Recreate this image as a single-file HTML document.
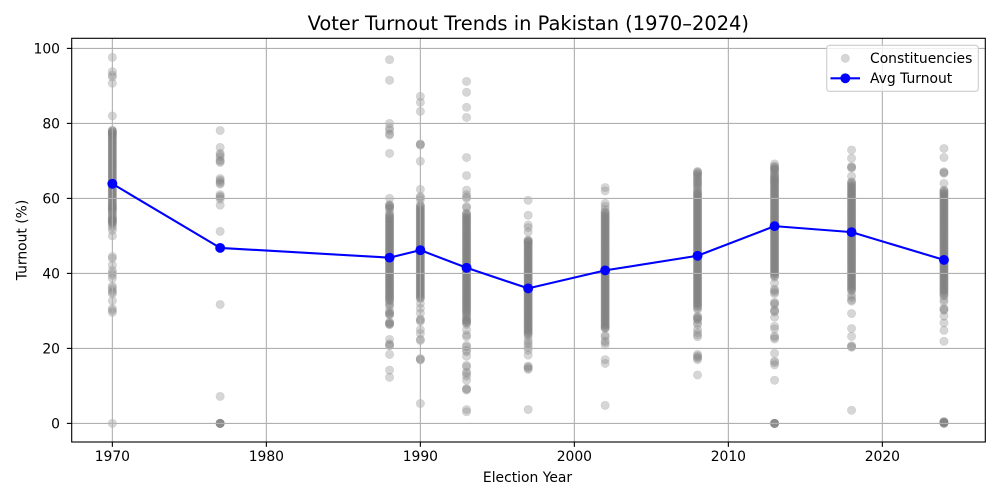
<!DOCTYPE html>
<html>
<head>
<meta charset="utf-8">
<title>Voter Turnout Trends in Pakistan</title>
<style>
html,body{margin:0;padding:0;background:#fff;}
svg{display:block;}
text{font-family:"DejaVu Sans","Liberation Sans",sans-serif;fill:#000;}
</style>
</head>
<body>
<svg id="chart" width="1000" height="500" viewBox="0 0 1000 500" xmlns="http://www.w3.org/2000/svg">
<rect x="0" y="0" width="1000" height="500" fill="#fff"/>
<text x="528.3" y="30" font-size="19.44" text-anchor="middle">Voter Turnout Trends in Pakistan (1970–2024)</text>
<text x="527.5" y="482" font-size="13.89" text-anchor="middle">Election Year</text>
<text x="0" y="0" font-size="13.89" text-anchor="middle" transform="translate(26.5 240) rotate(-90)">Turnout (%)</text>
<g id="scatter-layer"></g>
<g id="grid-layer"></g>
<g id="line-layer"></g>
<g id="axis-layer"></g>
<g>
<rect x="826.7" y="45.3" width="151.6" height="46" rx="2.8" fill="#fff" fill-opacity="0.8" stroke="#ccc" stroke-width="1.1"/>
<g>
<circle cx="845.3" cy="58.3" r="4.2" fill="#808080" fill-opacity="0.32" stroke="#808080" stroke-opacity="0.2" stroke-width="0.7"/>
<text x="870" y="62.8" font-size="13.89">Constituencies</text>
</g>
<g>
<line x1="830.5" y1="78.3" x2="860" y2="78.3" stroke="#00f" stroke-width="2.08"/>
<circle cx="845.3" cy="78.3" r="4.95" fill="#00f"/>
<text x="870" y="83" font-size="13.89">Avg Turnout</text>
</g>
</g>
</svg>
<script>
const electionYears = [1970, 1977, 1988, 1990, 1993, 1997, 2002, 2008, 2013, 2018, 2024];
const avgTurnout = [63.9, 46.8, 44.2, 46.2, 41.5, 36.0, 40.8, 44.7, 52.6, 51.0, 43.6];
const xTickLabels = [1970, 1980, 1990, 2000, 2010, 2020];
const yTickLabels = [0, 20, 40, 60, 80, 100];

const turnout1970 = [97.6,93.8,92.9,92.4,90.7,82.0,78.2,77.9,77.5,77.2,76.8,76.3,75.7,75.2,74.6,74.1,73.5,73.0,72.4,71.9,71.2,70.8,70.1,69.7,69.0,68.6,67.9,67.5,66.8,66.4,65.7,65.2,64.6,64.1,63.4,63.0,62.3,61.9,61.2,60.7,60.1,59.6,59.0,58.4,57.9,57.5,57.2,56.6,55.9,55.1,54.6,54.2,53.9,53.7,53.3,52.8,52.2,51.5,50.0,44.5,44.0,42.2,40.8,40.1,39.5,38.7,36.6,36.1,35.5,35.0,34.6,32.7,30.6,30.1,29.6,0,
  78.0,77.7,77.3,77.0,76.5,76.0,75.4,74.9,74.3,73.8,73.2,72.7,72.1,71.5,71.0,70.4,69.9,69.3,68.8,68.2,67.7,67.1,66.6,66.0,65.5,64.9,64.3,63.8,63.2,62.6,62.1,61.5,61.0,60.4,59.9,59.3,58.7,58.2,57.7,57.3,56.9,56.3,55.6,54.8,54.4,54.0,53.5];
const turnout1977 = [78.1,73.6,72.0,71.6,71.1,70.2,69.9,69.6,65.3,64.9,64.5,64.1,63.8,61.0,60.6,60.3,59.8,58.2,51.2,31.7,7.2,0,0,0,0,0,0];
const turnout1988 = [97.0,91.5,80.0,78.8,78.2,77.2,76.9,72.0,60.0,58.3,58.0,57.7,57.4,56.2,55.4,54.9,54.3,53.8,53.2,52.7,52.1,51.6,51.0,50.5,49.9,49.4,48.8,48.3,47.7,47.2,46.6,46.1,45.5,45.0,44.4,43.9,43.3,42.8,42.2,41.7,41.1,40.6,40.0,39.5,38.9,38.4,37.8,37.3,36.7,36.2,35.6,35.1,34.5,34.0,33.4,32.9,31.6,30.0,29.5,29.1,27.0,26.6,26.3,22.4,21.2,20.9,20.7,18.4,14.2,12.3,
  58.1,57.2,55.7,55.1,54.6,54.0,53.5,52.9,52.4,51.8,51.3,50.7,50.2,49.6,49.1,48.5,48.0,47.4,46.9,46.3,45.8,45.2,44.7,44.1,43.6,43.0,42.5,41.9,41.4,40.8,40.3,39.7,39.2,38.6,38.1,37.5,37.0,36.4,35.9,35.3,34.8,34.2,33.7,33.1,32.6,32.0,31.2,29.3,28.9,26.8,26.5];
const turnout1990 = [87.2,85.6,83.2,74.5,74.4,74.2,69.9,62.4,60.5,60.2,59.6,58.2,57.7,57.1,56.6,56.0,55.5,54.9,54.4,53.8,53.3,52.7,52.2,51.6,51.1,50.5,50.0,49.4,48.9,48.3,47.8,47.2,46.7,46.1,45.6,45.0,44.5,43.9,43.4,42.8,42.3,41.7,41.2,40.6,40.1,39.5,39.0,38.4,37.9,37.3,36.8,36.2,35.7,35.1,34.6,34.0,33.3,32.0,30.7,29.4,27.8,27.5,27.2,25.0,24.0,22.4,22.1,17.3,17.1,16.9,5.3,
  58.0,57.4,56.8,56.3,55.7,55.2,54.6,54.1,53.5,53.0,52.4,51.9,51.3,50.8,50.2,49.7,49.1,48.6,48.0,47.5,46.9,46.4,45.8,45.3,44.7,44.2,43.6,43.1,42.5,42.0,41.4,40.9,40.3,39.8,39.2,38.7,38.1,37.6,37.0,36.5,35.9,35.4,34.8,34.3,33.7,33.5];
const turnout1993 = [91.2,88.3,84.3,81.6,70.9,66.1,62.2,61.0,60.4,60.0,57.8,57.5,56.1,55.6,55.0,54.5,53.9,53.4,52.8,52.3,51.7,51.2,50.6,50.1,49.5,49.0,48.4,47.9,47.3,46.8,46.2,45.7,45.1,44.6,44.0,43.5,42.9,42.4,41.8,41.3,40.7,40.2,39.6,39.1,38.5,38.0,37.4,36.9,36.3,35.8,35.2,34.7,34.1,33.6,33.0,32.5,31.9,31.4,30.8,30.3,29.7,29.0,27.6,27.2,26.8,26.4,24.9,23.6,23.1,20.8,20.4,19.5,19.1,17.9,15.5,15.1,13.7,13.3,12.6,11.5,9.3,9.1,8.9,3.7,3.1,
  55.8,55.3,54.7,54.2,53.6,53.1,52.5,52.0,51.4,50.9,50.3,49.8,49.2,48.7,48.1,47.6,47.0,46.5,45.9,45.4,44.8,44.3,43.7,43.2,42.6,42.1,41.5,41.0,40.4,39.9,39.3,38.8,38.2,37.7,37.1,36.6,36.0,35.5,34.9,34.4,33.8,33.3,32.7,32.2,31.6,31.1,30.5,30.0,29.4,28.8,28.2,27.9,27.4,27.0];
const turnout1997 = [59.5,55.5,52.9,52.2,51.0,48.9,48.6,48.2,47.6,47.1,46.5,46.0,45.4,44.9,44.3,43.8,43.2,42.7,42.1,41.6,41.0,40.5,39.9,39.4,38.8,38.3,37.7,37.2,36.6,36.1,35.5,35.0,34.4,33.9,33.3,32.8,32.2,31.7,31.1,30.6,30.0,29.5,28.9,28.4,27.8,27.3,26.7,26.2,25.6,25.1,24.5,24.0,23.2,22.2,21.6,20.9,20.2,19.5,18.2,15.3,15.0,14.7,14.4,3.7,
  48.7,48.4,47.9,47.4,46.8,46.3,45.7,45.2,44.6,44.1,43.5,43.0,42.4,41.9,41.3,40.8,40.2,39.7,39.1,38.6,38.0,37.5,36.9,36.4,35.8,35.3,34.7,34.2,33.6,33.1,32.5,32.0,31.4,30.9,30.3,29.8,29.2,28.7,28.1,27.6,27.0,26.5,25.9,25.4,24.8,24.3,23.7];
const turnout2002 = [62.9,62.0,58.7,57.9,57.1,56.4,55.9,55.3,54.8,54.2,53.7,53.1,52.6,52.0,51.5,50.9,50.4,49.8,49.3,48.7,48.2,47.6,47.1,46.5,46.0,45.4,44.9,44.3,43.8,43.2,42.7,42.1,41.6,41.0,40.5,39.9,39.4,38.8,38.3,37.7,37.2,36.6,36.1,35.5,35.0,34.4,33.9,33.3,32.8,32.2,31.7,31.1,30.6,30.0,29.5,28.9,28.4,27.8,27.3,26.7,26.2,25.6,25.3,23.5,23.1,22.0,21.6,20.9,17.0,16.0,4.8,
  56.2,55.6,55.0,54.5,53.9,53.4,52.8,52.3,51.7,51.2,50.6,50.1,49.5,49.0,48.4,47.9,47.3,46.8,46.2,45.7,45.1,44.6,44.0,43.5,42.9,42.4,41.8,41.3,40.7,40.2,39.6,39.1,38.5,38.0,37.4,36.9,36.3,35.8,35.2,34.7,34.1,33.6,33.0,32.5,31.9,31.4,30.8,30.3,29.7,29.2,28.6,28.1,27.5,27.0,26.4,25.9,25.5];
const turnout2008 = [67.2,66.8,66.2,65.6,64.5,63.9,63.2,62.3,61.5,61.1,60.6,60.0,59.5,58.9,58.4,57.8,57.3,56.7,56.2,55.6,55.1,54.5,54.0,53.4,52.9,52.3,51.8,51.2,50.7,50.1,49.6,49.0,48.5,47.9,47.4,46.8,46.3,45.7,45.2,44.6,44.1,43.5,43.0,42.4,41.9,41.3,40.8,40.2,39.7,39.1,38.6,38.0,37.5,36.9,36.4,35.8,35.3,34.7,34.2,33.6,33.1,32.5,32.0,31.4,30.7,28.6,28.1,27.6,26.8,26.4,25.0,24.2,23.6,23.1,18.4,18.0,17.7,17.4,17.0,12.9,
  67.0,66.5,65.9,65.2,64.8,64.2,63.5,62.8,61.9,61.3,60.8,60.3,59.7,59.2,58.6,58.1,57.5,57.0,56.4,55.9,55.3,54.8,54.2,53.7,53.1,52.6,52.0,51.5,50.9,50.4,49.8,49.3,48.7,48.2,47.6,47.1,46.5,46.0,45.4,44.9,44.3,43.8,43.2,42.7,42.1,41.6,41.0,40.5,39.9,39.4,38.8,38.3,37.7,37.2,36.6,36.1,35.5,35.0,34.4,33.9,33.3,32.8,32.2,31.7,31.1,30.4,28.3,27.9];
const turnout2013 = [69.2,68.6,68.1,67.7,67.2,66.6,65.8,65.2,64.7,64.3,63.8,63.2,62.7,62.1,61.6,61.0,60.5,59.9,59.4,58.8,58.3,57.7,57.2,56.6,56.1,55.5,55.0,54.4,53.9,53.3,52.8,52.2,51.7,51.1,50.6,50.0,49.5,48.9,48.4,47.8,47.3,46.7,46.2,45.6,45.1,44.5,44.0,43.4,42.9,42.3,41.8,41.2,40.7,40.1,39.6,39.0,37.4,35.8,35.4,35.0,34.6,32.3,32.0,31.7,30.3,30.0,29.7,28.3,25.9,25.2,23.3,22.9,22.5,18.7,16.6,16.2,15.6,11.5,0,0,0,0,0,0,
  68.4,67.9,67.4,66.3,65.9,65.4,64.9,64.5,64.0,63.5,62.9,62.4,61.8,61.3,60.7,60.2,59.6,59.1,58.5,58.0,57.4,56.9,56.3,55.8,55.2,54.7,54.1,53.6,53.0,52.5,51.9,51.4,50.8,50.3,49.7,49.2,48.6,48.1,47.5,47.0,46.4,45.9,45.3,44.8,44.2,43.7,43.1,42.6,42.0,41.5,40.9,40.4,39.8,39.3];
const turnout2018 = [72.9,70.7,68.5,68.3,68.1,65.9,64.4,63.9,63.3,62.8,62.2,61.7,61.1,60.6,60.0,59.5,58.9,58.4,57.8,57.3,56.7,56.2,55.6,55.1,54.5,54.0,53.4,52.9,52.3,51.8,51.2,50.7,50.1,49.6,49.0,48.5,47.9,47.4,46.8,46.3,45.7,45.2,44.6,44.1,43.5,43.0,42.4,41.9,41.3,40.8,40.2,39.7,39.1,38.6,38.0,37.5,36.9,36.4,35.8,35.3,34.2,33.6,32.9,32.6,29.3,25.3,23.2,20.7,20.5,20.3,3.5,
  64.2,63.6,63.1,62.5,62.0,61.4,60.9,60.3,59.8,59.2,58.7,58.1,57.6,57.0,56.5,55.9,55.4,54.8,54.3,53.7,53.2,52.6,52.1,51.5,51.0,50.4,49.9,49.3,48.8,48.2,47.7,47.1,46.6,46.0,45.5,44.9,44.4,43.8,43.3,42.7,42.2,41.6,41.1,40.5,40.0,39.4,38.9,38.3,37.8,37.2,36.7,36.1,35.6];
const turnout2024 = [73.3,70.9,67.1,66.9,66.7,64.0,62.2,61.8,61.3,60.8,60.2,59.7,59.1,58.6,58.0,57.5,56.9,56.4,55.8,55.3,54.7,54.2,53.6,53.1,52.5,52.0,51.4,50.9,50.3,49.8,49.2,48.7,48.1,47.6,47.0,46.5,45.9,45.4,44.8,44.3,43.7,43.2,42.6,42.1,41.5,41.0,40.4,39.9,39.3,38.8,38.2,37.7,37.1,36.6,36.0,35.5,34.9,34.2,33.0,32.4,30.7,30.4,30.1,28.6,26.8,24.8,21.9,0.5,0.4,0.3,0.2,0.1,0,0,0.3,
  62.0,61.5,61.0,60.5,59.9,59.4,58.8,58.3,57.7,57.2,56.6,56.1,55.5,55.0,54.4,53.9,53.3,52.8,52.2,51.7,51.1,50.6,50.0,49.5,48.9,48.4,47.8,47.3,46.7,46.2,45.6,45.1,44.5,44.0,43.4,42.9,42.3,41.8,41.2,40.7,40.1,39.6,39.0,38.5,37.9,37.4,36.8,36.3,35.7,35.2,34.6,34.0];

const turnoutByElection = [turnout1970, turnout1977, turnout1988, turnout1990, turnout1993, turnout1997, turnout2002, turnout2008, turnout2013, turnout2018, turnout2024];

const NS = 'http://www.w3.org/2000/svg';
const plotLeft = 71.7, plotRight = 985.3, plotTop = 38.3, plotBottom = 442;
const xMin = 1967.36, xPerYear = 15.4;
const yMin = -4.96, yPerUnit = 3.75;

function xScale(v) { return plotLeft + (v - xMin) * xPerYear; }
function yScale(v) { return plotBottom - (v - yMin) * yPerUnit; }

function make(tag, attrs) {
  const el = document.createElementNS(NS, tag);
  for (const k in attrs) el.setAttribute(k, attrs[k]);
  return el;
}

const scatterLayer = document.getElementById('scatter-layer');
const gridLayer = document.getElementById('grid-layer');
const lineLayer = document.getElementById('line-layer');
const axisLayer = document.getElementById('axis-layer');

electionYears.forEach(function (year, i) {
  turnoutByElection[i].forEach(function (value) {
    const dot = make('circle', {cx: xScale(year), cy: yScale(value), r: 4.2, fill: '#808080', 'fill-opacity': 0.32, stroke: '#808080', 'stroke-opacity': 0.2, 'stroke-width': 0.7});
    
    
    scatterLayer.appendChild(dot);
  });
});

xTickLabels.forEach(function (tick) {
  const x = xScale(tick);
  const grid = make('line', {x1: x, y1: plotTop, x2: x, y2: plotBottom, stroke: '#b0b0b0', 'stroke-width': 1.11});
  
  
  gridLayer.appendChild(grid);
  const mark = make('line', {x1: x, y1: plotBottom, x2: x, y2: plotBottom + 4.86, stroke: '#000', 'stroke-width': 1.11});
  
  
  axisLayer.appendChild(mark);
  const label = make('text', {x: x, y: 461, 'font-size': 13.89, 'text-anchor': 'middle'});
  
  
  label.textContent = tick;
  axisLayer.appendChild(label);
});

yTickLabels.forEach(function (tick) {
  const y = yScale(tick);
  const grid = make('line', {x1: plotLeft, y1: y, x2: plotRight, y2: y, stroke: '#b0b0b0', 'stroke-width': 1.11});
  
  
  gridLayer.appendChild(grid);
  const mark = make('line', {x1: plotLeft - 4.86, y1: y, x2: plotLeft, y2: y, stroke: '#000', 'stroke-width': 1.11});
  
  
  axisLayer.appendChild(mark);
  const label = make('text', {x: 60, y: y + 5.2, 'font-size': 13.89, 'text-anchor': 'end'});
  
  
  label.textContent = tick;
  axisLayer.appendChild(label);
});

const linePoints = electionYears.map(function (year, i) { return xScale(year) + ',' + yScale(avgTurnout[i]); }).join(' ');
const avgLine = make('polyline', {points: linePoints, fill: 'none', stroke: '#00f', 'stroke-width': 2.08, 'stroke-linejoin': 'round'});


lineLayer.appendChild(avgLine);

electionYears.forEach(function (year, i) {
  const marker = make('circle', {cx: xScale(year), cy: yScale(avgTurnout[i]), r: 4.95, fill: '#00f'});
  
  
  lineLayer.appendChild(marker);
});

const frame = make('rect', {x: plotLeft, y: plotTop, width: plotRight - plotLeft, height: plotBottom - plotTop, fill: 'none', stroke: '#000', 'stroke-width': 1.11});


axisLayer.appendChild(frame);
</script>
</body>
</html>
